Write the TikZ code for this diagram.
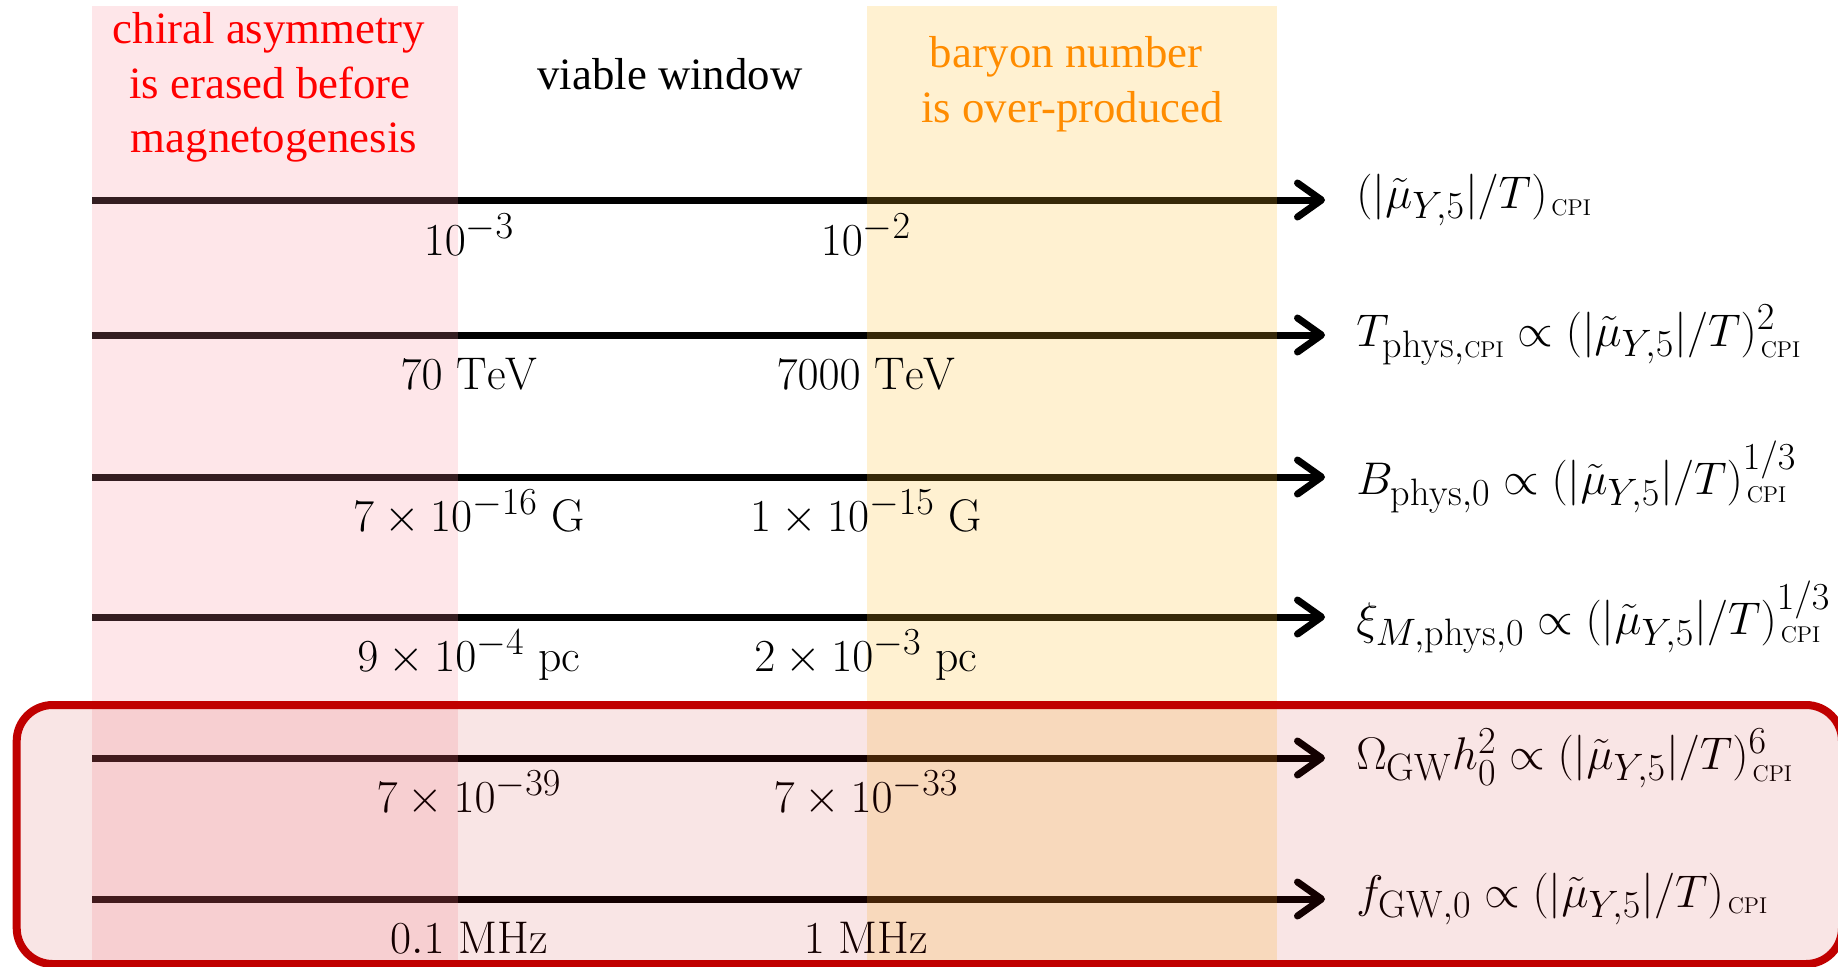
\RequirePackage{fix-cm}
\documentclass[tikz,border=0pt]{standalone}
\usepackage{amsmath}
\usepackage{fontspec}
\newfontfamily\tnr{Liberation Serif}
\usetikzlibrary{arrows.meta}
\DeclareMathSizes{22.9}{22.9}{19.1}{15.9}
\definecolor{bandpink}{RGB}{248,138,152}
\definecolor{bandorange}{RGB}{255,190,40}
\definecolor{boxred}{RGB}{192,0,0}
\definecolor{txtred}{RGB}{255,0,0}
\definecolor{txtorange}{RGB}{255,140,0}
\newcommand{\cpiplain}{\mbox{\fontsize{11.4pt}{12pt}\selectfont CPI}}
\newcommand{\cpisub}{\mbox{\kern2pt\fontsize{11.4pt}{12pt}\selectfont CPI}}
\newcommand{\muratio}{(|\tilde{\mu}_{Y,5}|/T)}
\tikzset{
  axisline/.style={line width=3.5pt, -{Straight Barb[length=12pt,width=17pt,round]}},
  txt/.style={font=\fontsize{22.9pt}{28pt}\selectfont, inner sep=0pt},
  tnrtxt/.style={font=\fontsize{22.4pt}{27.4pt}\selectfont\tnr, inner sep=0pt, anchor=base},
  ticklbl/.style={txt, anchor=base},
  qtylbl/.style={txt, anchor=west},
  redline/.style={tnrtxt, text=txtred},
  orangeline/.style={tnrtxt, text=txtorange},
  bandfill/.style={opacity=0.21},
  gwbox/.style={draw=boxred, line width=4pt, fill=boxred, fill opacity=0.1, rounded corners=18pt}
}
\begin{document}
\begin{tikzpicture}[x=0.5pt,y=-0.5pt]
\useasboundingbox (0,0) rectangle (1838,966);
\clip (0,0) rectangle (1838,966);
% axes
\foreach \yy/\n in {200/1,335/2,477/3,617/4,758/5,899/6}{
  \coordinate (s\n) at (92,\yy);
  \coordinate (e\n) at (1325,\yy);
  \draw[axisline] (s\n) -- (e\n);
}
% bands
\fill[bandpink, bandfill] (92,6) rectangle (458,975);
\fill[bandorange, bandfill] (867,6) rectangle (1277,975);
% band texts
\node[redline] (r1) at (269,43) {chiral asymmetry};
\node[redline] (r2) at (270,98) {is erased before};
\node[redline] (r3) at (274,152) {magnetogenesis};
\node[tnrtxt] (vw) at (670,89) {viable window};
\node[orangeline] (o1) at (1066,67) {baryon number};
\node[orangeline] (o2) at (1072,122) {is over-produced};
% tick labels
\node[ticklbl] (l1) at (469,255) {$10^{-3}$};
\node[ticklbl] (m1) at (866,255) {$10^{-2}$};
\node[ticklbl] (l2) at (469,389) {$70\ \mathrm{TeV}$};
\node[ticklbl] (m2) at (866,389) {$7000\ \mathrm{TeV}$};
\node[ticklbl] (l3) at (469,531) {$7\times10^{-16}\ \mathrm{G}$};
\node[ticklbl] (m3) at (866,531) {$1\times10^{-15}\ \mathrm{G}$};
\node[ticklbl] (l4) at (469,671) {$9\times10^{-4}\ \mathrm{pc}$};
\node[ticklbl] (m4) at (866,671) {$2\times10^{-3}\ \mathrm{pc}$};
\node[ticklbl] (l5) at (469,812) {$7\times10^{-39}$};
\node[ticklbl] (m5) at (866,812) {$7\times10^{-33}$};
\node[ticklbl] (l6) at (469,953) {$0.1\ \mathrm{MHz}$};
\node[ticklbl] (m6) at (866,953) {$1\ \mathrm{MHz}$};
% quantity labels
\node[qtylbl] (q1) at (1356,200) {$\muratio_{\cpisub}$};
\node[qtylbl] (q2) at (1356,335) {$T_{\mathrm{phys},\cpiplain}\propto\muratio^{2}_{\cpisub}$};
\node[qtylbl] (q3) at (1356,477) {$B_{\mathrm{phys},0}\propto\muratio^{1/3}_{\cpisub}$};
\node[qtylbl] (q4) at (1356,617) {$\xi_{M,\mathrm{phys},0}\propto\muratio^{1/3}_{\cpisub}$};
\node[qtylbl] (q5) at (1356,758) {$\Omega_{\mathrm{GW}}h_0^2\propto\muratio^{6}_{\cpisub}$};
\node[qtylbl] (q6) at (1356,899) {$f_{\mathrm{GW},0}\propto\muratio_{\cpisub}$};
% GW box
\draw[gwbox] (16.7,705) rectangle (1842,964);
\end{tikzpicture}
\end{document}
